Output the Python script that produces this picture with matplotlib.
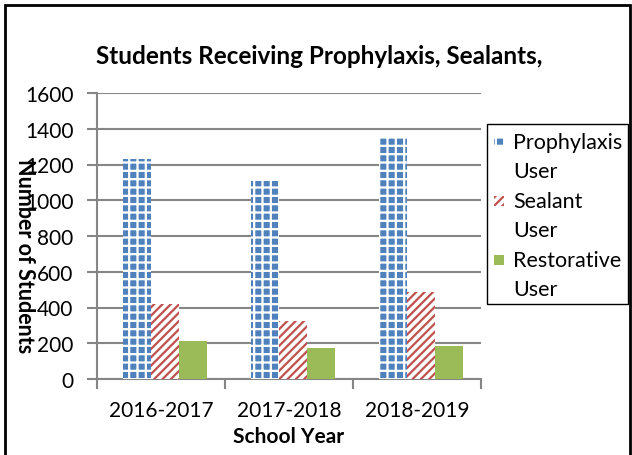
import matplotlib
matplotlib.use("Agg")
import matplotlib.pyplot as plt
import numpy as np
from matplotlib.patches import Rectangle

years = ["2016-2017", "2017-2018", "2018-2019"]
series_names = ["Prophylaxis\nUser", "Sealant\nUser", "Restorative\nUser"]
prophylaxis = [1230, 1105, 1352]
sealant = [420, 325, 485]
restorative = [210, 175, 183]

plt.rcParams['font.family'] = ['Lato', 'DejaVu Sans']
plt.rcParams['hatch.linewidth'] = 1.6

W, H = 632, 456
fig = plt.figure(figsize=(W/100, H/100), dpi=100)
ax = fig.add_axes([97/W, 1-380/H, 384/W, 286/H])

styles = [
    dict(facecolor='#4F81BD', edgecolor='white', hatch='++', linewidth=0),
    dict(facecolor='white', edgecolor='#C0504D', hatch='////', linewidth=0),
    dict(facecolor='#9BBB59', edgecolor='#9BBB59', linewidth=0),
]

x = np.arange(len(years))
w = 0.22
shift = 0.03
for i, vals in enumerate([prophylaxis, sealant, restorative]):
    ax.bar(x + (i - 1) * w + shift, vals, w, zorder=3, **styles[i])

ax.set_xlim(-0.5, 2.5)
ax.set_ylim(0, 1600)
ax.set_yticks(np.arange(0, 1601, 200))
ax.set_xticks(x)
ax.set_xticklabels(years, fontsize=15)
ax.set_xticks(np.arange(-0.5, 2.6, 1), minor=True)
ax.tick_params(axis='x', which='major', length=0, pad=15)
ax.tick_params(axis='x', which='minor', length=7, width=1.5, color='#868686', direction='out')
ax.tick_params(axis='y', length=7, width=1.5, color='#868686', labelsize=15, pad=10)
ax.grid(axis='y', color='#868686', linewidth=1.5, zorder=0)
for s in ['top', 'right']:
    ax.spines[s].set_visible(False)
for s in ['left', 'bottom']:
    ax.spines[s].set_color('#868686')
    ax.spines[s].set_linewidth(1.5)

fig.text(319/W, 1-57/H, "Students Receiving Prophylaxis, Sealants,",
         ha='center', va='center', fontsize=17.5, fontweight='bold')
fig.text(24/W, 1-256/H, "Number of Students", rotation=270, ha='center',
         va='center', fontsize=15.5, fontweight='bold')
fig.text(289/W, 1-437/H, "School Year", ha='center', va='center',
         fontsize=15, fontweight='bold')

# manual legend (handle aligned with the first line of each two-line label)
fig.patches.append(Rectangle((487/W, 1-305/H), 141/W, 180/H, transform=fig.transFigure,
                             facecolor='white', edgecolor='black', linewidth=1.0))
line_y = [143, 202, 261]
for i, name in enumerate(series_names):
    yc = line_y[i]
    fig.patches.append(Rectangle((494/W, 1-(yc+5)/H), 10/W, 10/H,
                                 transform=fig.transFigure, **styles[i]))
    first, second = name.split("\n")
    fig.text(513/W, 1-yc/H, first, ha='left', va='center', fontsize=15.5)
    fig.text(513/W, 1-(yc+29)/H, second, ha='left', va='center', fontsize=15.5)

fig.patches.append(Rectangle((5/W, -10/H), 625/W, 456/H + 4/H, transform=fig.transFigure,
                             fill=False, edgecolor='black', linewidth=2))

fig.savefig("out.png", dpi=100)
